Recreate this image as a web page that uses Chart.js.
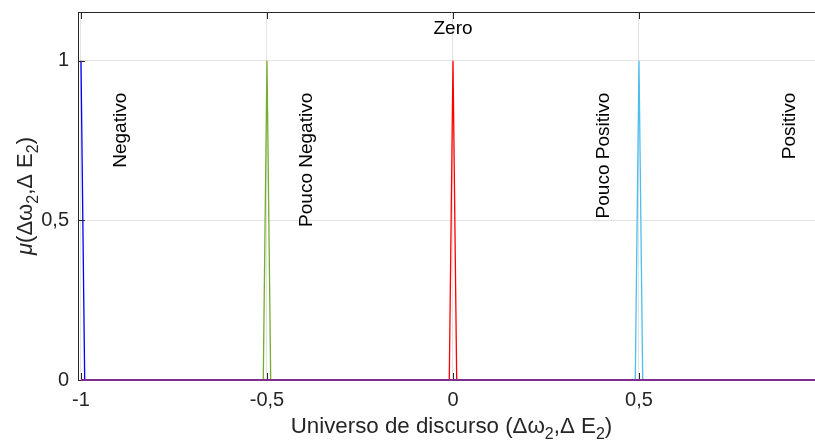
<!DOCTYPE html>
<html><head><meta charset="utf-8">
<script src="https://cdn.jsdelivr.net/npm/chart.js@4"></script>
<style>html,body{margin:0;padding:0;overflow:hidden;background:#fff}#wrap{width:826px;height:443px;position:relative}</style>
</head><body><div id="wrap"><canvas id="c"></canvas></div>
<script>
// ---- data ----
const seriesNames = ['Negativo', 'Pouco Negativo', 'Zero', 'Pouco Positivo', 'Positivo'];
const negativoX = [-1, -0.99, 1];
const negativoY = [1, 0, 0];
const poucoNegX = [-1, -0.51, -0.5, -0.49, 1];
const poucoNegY = [0, 0, 1, 0, 0];
const zeroX = [-1, -0.01, 0, 0.01, 1];
const zeroY = [0, 0, 1, 0, 0];
const poucoPosX = [-1, 0.49, 0.5, 0.51, 1];
const poucoPosY = [0, 0, 1, 0, 0];
const positivoX = [-1, 0.99, 1];
const positivoY = [0, 0, 1];
const xTickValues = [-1, -0.5, 0, 0.5];
const yTickValues = [0, 0.5, 1];
// annotation anchors (data coords) for the set names
const labelX = [-0.9, -0.4, 0, 0.4, 0.9];
const labelY = [0.9, 0.9, 1.1, 0.9, 0.9];
const labelRotated = [true, true, false, true, true];

const colors = ['#0000FF', '#77AC30', '#FF0000', '#4DBEEE', '#7E2F8E'];
const FONT = '"Liberation Sans", Arial, Helvetica, sans-serif';
const AX = '#262626';

function pts(xs, ys) { return xs.map((x, i) => ({x: x, y: ys[i]})); }
const seriesData = [pts(negativoX, negativoY), pts(poucoNegX, poucoNegY), pts(zeroX, zeroY), pts(poucoPosX, poucoPosY), pts(positivoX, positivoY)];

const datasets = seriesNames.map((n, i) => ({
  label: n, data: seriesData[i], borderColor: colors[i], backgroundColor: colors[i],
  borderWidth: i === 4 ? 1.8 : 1.3, pointRadius: 0, fill: false, tension: 0, order: 5 - i, clip: 3
}));

function drawRich(ctx, segs, x, y) {
  let total = 0;
  segs.forEach(s => { ctx.font = (s.style || '') + ' ' + s.size + 'px ' + FONT; s.w = ctx.measureText(s.t).width; total += s.w; });
  let cx = x - total / 2;
  ctx.textAlign = 'left'; ctx.textBaseline = 'alphabetic';
  segs.forEach(s => { ctx.font = (s.style || '') + ' ' + s.size + 'px ' + FONT; ctx.fillText(s.t, cx, y + (s.dy || 0)); cx += s.w; });
}

const deco = {
  id: 'deco',
  afterDraw(chart) {
    const ctx = chart.ctx, a = chart.chartArea, xs = chart.scales.x, ys = chart.scales.y;
    ctx.save();
    ctx.strokeStyle = AX; ctx.lineWidth = 1;
    ctx.beginPath();
    ctx.moveTo(a.left, a.top + 0.5); ctx.lineTo(a.right, a.top + 0.5);
    ctx.moveTo(a.right - 0.5, a.top); ctx.lineTo(a.right - 0.5, a.bottom);
    ctx.stroke();
    const TL = 7;
    ctx.beginPath();
    xTickValues.forEach(v => {
      const px = Math.round(xs.getPixelForValue(v)) + 0.5;
      ctx.moveTo(px, a.bottom - 1); ctx.lineTo(px, a.bottom - TL);
      ctx.moveTo(px, a.top); ctx.lineTo(px, a.top + TL);
    });
    yTickValues.forEach(v => {
      const py = Math.round(ys.getPixelForValue(v)) + 0.5;
      if (v > 0) { ctx.moveTo(a.left, py); ctx.lineTo(a.left + TL, py); }
    });
    ctx.stroke();
    ctx.fillStyle = '#000';
    ctx.font = '19px ' + FONT;
    seriesNames.forEach((n, i) => {
      const px = xs.getPixelForValue(labelX[i]), py = ys.getPixelForValue(labelY[i]);
      ctx.save();
      if (labelRotated[i]) {
        ctx.translate(px + 7.5, py);
        ctx.rotate(-Math.PI / 2);
        ctx.textAlign = 'right'; ctx.textBaseline = 'alphabetic';
        ctx.fillText(n, 0, 0);
      } else {
        ctx.textAlign = 'center'; ctx.textBaseline = 'middle';
        ctx.fillText(n, px, py);
      }
      ctx.restore();
    });
    ctx.fillStyle = AX;
    const cxm = (a.left + a.right) / 2;
    drawRich(ctx, [
      {t: 'Universo de discurso (Δω', size: 22.3},
      {t: '2', size: 16, dy: 6},
      {t: ',Δ E', size: 22.3},
      {t: '2', size: 16, dy: 6},
      {t: ')', size: 22.3}
    ], cxm, 433);
    ctx.save();
    ctx.translate(32, (a.top + a.bottom) / 2);
    ctx.rotate(-Math.PI / 2);
    drawRich(ctx, [
      {t: 'μ', size: 22, style: 'italic'},
      {t: '(Δω', size: 22},
      {t: '2', size: 16, dy: 6},
      {t: ',Δ E', size: 22},
      {t: '2', size: 16, dy: 6},
      {t: ')', size: 22}
    ], 0, 0);
    ctx.restore();
    ctx.restore();
  }
};

new Chart(document.getElementById('c'), {
  type: 'line',
  data: { datasets: datasets },
  options: {
    responsive: true, maintainAspectRatio: false, animation: false,
    layout: { padding: { top: 12, right: 1, left: 0, bottom: 0 } },
    plugins: { legend: { display: false }, tooltip: { enabled: false } },
    scales: {
      x: {
        type: 'linear', min: -1.008, max: 1,
        afterBuildTicks: s => { s.ticks = xTickValues.map(v => ({value: v})); },
        afterFit: s => { s.height = 63; s.paddingLeft = 0; s.paddingRight = 0; },
        grid: { color: '#e3e3e3', drawTicks: false, lineWidth: 1 },
        border: { color: AX, width: 1 },
        ticks: { padding: 8, color: AX, font: { size: 20, family: FONT }, maxRotation: 0,
          callback: v => String(v).replace('.', ',') }
      },
      y: {
        type: 'linear', min: 0, max: 1.153,
        afterBuildTicks: s => { s.ticks = yTickValues.map(v => ({value: v})); },
        afterFit: s => { s.width = 78; s.paddingTop = 0; s.paddingBottom = 0; },
        grid: { color: '#e3e3e3', drawTicks: false, lineWidth: 1 },
        border: { color: AX, width: 1 },
        ticks: { padding: 9, color: AX, font: { size: 20, family: FONT },
          callback: v => String(v).replace('.', ',') }
      }
    }
  },
  plugins: [deco]
});
</script></body></html>
